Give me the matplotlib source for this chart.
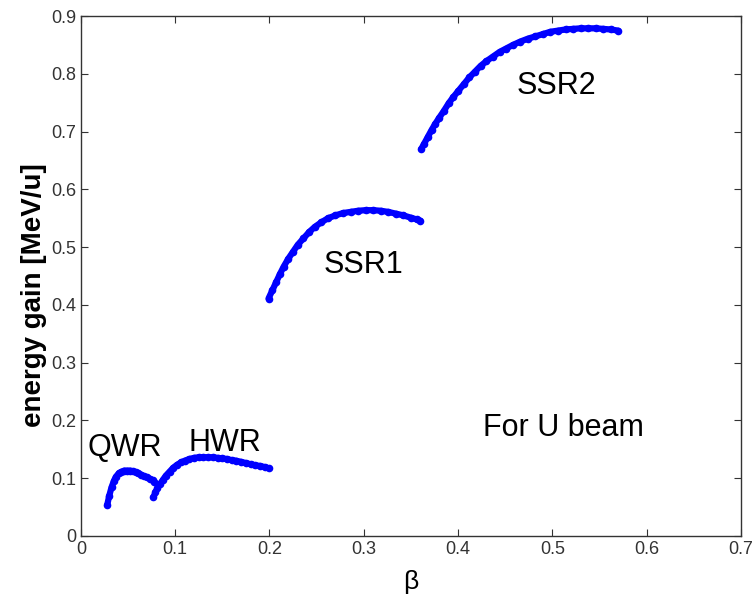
import matplotlib
matplotlib.use('Agg')
import matplotlib.pyplot as plt

plt.rcParams['font.family'] = ['Liberation Sans', 'DejaVu Sans']

# ---------------- data ----------------
qwr_beta = [0.028, 0.030, 0.0325, 0.035, 0.037, 0.040, 0.043, 0.046, 0.049, 0.052,
            0.055, 0.058, 0.061, 0.064, 0.067, 0.070, 0.073, 0.076, 0.078]
qwr_gain = [0.054, 0.069, 0.084, 0.095, 0.102, 0.108, 0.111, 0.113, 0.113, 0.113,
            0.112, 0.110, 0.108, 0.106, 0.103, 0.101, 0.099, 0.096, 0.094]

hwr_beta = [0.077, 0.079, 0.081, 0.084, 0.087, 0.090, 0.094, 0.098, 0.102, 0.106,
            0.110, 0.115, 0.120, 0.125, 0.130, 0.135, 0.140, 0.145, 0.150, 0.155,
            0.160, 0.165, 0.170, 0.175, 0.180, 0.185, 0.190, 0.195, 0.199]
hwr_gain = [0.067, 0.075, 0.082, 0.090, 0.097, 0.104, 0.111, 0.118, 0.123, 0.127,
            0.130, 0.133, 0.135, 0.136, 0.136, 0.136, 0.136, 0.135, 0.134, 0.133,
            0.131, 0.130, 0.128, 0.126, 0.124, 0.122, 0.121, 0.119, 0.117]

ssr1_beta = [0.199, 0.203, 0.207, 0.211, 0.215, 0.220, 0.225, 0.230, 0.236, 0.242,
             0.248, 0.255, 0.262, 0.270, 0.278, 0.286, 0.294, 0.302, 0.310, 0.318,
             0.326, 0.334, 0.342, 0.350, 0.356, 0.360]
ssr1_gain = [0.411, 0.425, 0.439, 0.453, 0.466, 0.480, 0.492, 0.504, 0.515, 0.526,
             0.535, 0.543, 0.550, 0.555, 0.559, 0.561, 0.563, 0.564, 0.564, 0.563,
             0.561, 0.558, 0.555, 0.551, 0.548, 0.546]

ssr2_beta = [0.361, 0.364, 0.368, 0.372, 0.376, 0.380, 0.385, 0.390, 0.395, 0.400,
             0.406, 0.412, 0.418, 0.424, 0.430, 0.437, 0.444, 0.451, 0.458, 0.466,
             0.474, 0.482, 0.490, 0.498, 0.506, 0.514, 0.522, 0.530, 0.538, 0.546,
             0.554, 0.562, 0.570]
ssr2_gain = [0.670, 0.679, 0.691, 0.703, 0.714, 0.724, 0.736, 0.749, 0.760, 0.770,
             0.782, 0.794, 0.804, 0.814, 0.822, 0.830, 0.838, 0.844, 0.850, 0.856,
             0.861, 0.865, 0.869, 0.873, 0.875, 0.877, 0.878, 0.879, 0.879, 0.879,
             0.878, 0.877, 0.875]

x_ticks = [0, 0.1, 0.2, 0.3, 0.4, 0.5, 0.6, 0.7]
x_labels = ['0', '0.1', '0.2', '0.3', '0.4', '0.5', '0.6', '0.7']
y_ticks = [0, 0.1, 0.2, 0.3, 0.4, 0.5, 0.6, 0.7, 0.8, 0.9]
y_labels = ['0', '0.1', '0.2', '0.3', '0.4', '0.5', '0.6', '0.7', '0.8', '0.9']

# ---------------- figure ----------------
fig = plt.figure(figsize=(7.56, 6.0), dpi=100)
ax = fig.add_axes([0.107, 0.107, 0.873, 0.866])

for b, g in [(qwr_beta, qwr_gain), (hwr_beta, hwr_gain),
             (ssr1_beta, ssr1_gain), (ssr2_beta, ssr2_gain)]:
    ax.plot(b, g, '-o', color='#0000ff', lw=4.5, ms=5.5, mew=0,
            solid_capstyle='round')

# cavity labels (baseline anchored)
ax.text(0.0467, 0.139, 'QWR', fontsize=22, ha='center', va='baseline')
ax.text(0.1527, 0.147, 'HWR', fontsize=22, ha='center', va='baseline')
ax.text(0.300, 0.456, 'SSR1', fontsize=22, ha='center', va='baseline')
ax.text(0.504, 0.766, 'SSR2', fontsize=22, ha='center', va='baseline')
ax.text(0.512, 0.173, 'For U beam', fontsize=22, ha='center', va='baseline')

ax.set_xlim(0, 0.7)
ax.set_ylim(0, 0.9)
ax.set_xticks(x_ticks)
ax.set_xticklabels(x_labels)
ax.set_yticks(y_ticks)
ax.set_yticklabels(y_labels)
ax.tick_params(direction='in', top=True, right=True, length=5,
               labelsize=13, labelcolor='#333333', color='#333333')
for s in ax.spines.values():
    s.set_color('#333333')
    s.set_linewidth(1.0)

ax.set_xlabel('β', fontsize=19, labelpad=9)
ax.set_ylabel('energy gain [MeV/u]', fontsize=20, fontweight='bold')
ax.yaxis.set_label_coords(-0.052, 0.4635)

fig.savefig('out.png', dpi=100)
